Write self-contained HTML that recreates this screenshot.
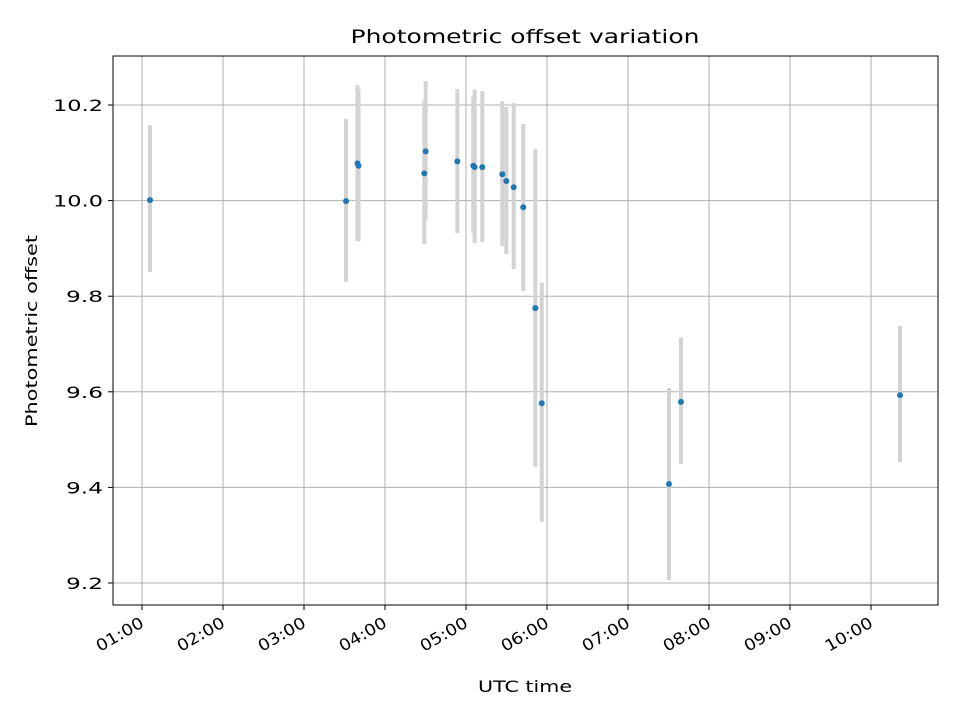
<!DOCTYPE html>
<html><head><meta charset="utf-8"><style>
body{margin:0;background:#fff;font-family:"Liberation Sans","DejaVu Sans",sans-serif}
svg text{font-family:"DejaVu Sans","Liberation Sans",sans-serif}
</style></head><body>
<svg id="chart" width="960" height="720" viewBox="0 0 960 720">
<rect width="960" height="720" fill="#fff"/>
<text x="525" y="43" style="font-size:19px" text-anchor="middle" textLength="349" lengthAdjust="spacingAndGlyphs">Photometric offset variation</text>
<text x="525" y="692" style="font-size:16px" text-anchor="middle" textLength="94" lengthAdjust="spacingAndGlyphs">UTC time</text>
<text transform="translate(37,331) rotate(-90)" style="font-size:16px" text-anchor="middle" textLength="192" lengthAdjust="spacingAndGlyphs">Photometric offset</text>
<g id="grid"></g><g id="bars"></g><g id="pts"></g><g id="ticks"></g>
<rect x="113" y="56" width="825" height="549" fill="none" stroke="#000" stroke-width="1"/>
</svg>
<script>
const times=[1.099,3.519,3.660,3.673,4.485,4.502,4.893,5.090,5.107,5.201,5.448,5.498,5.589,5.707,5.856,5.935,7.506,7.654,10.358];
const values=[10.001,9.999,10.078,10.073,10.057,10.103,10.082,10.073,10.070,10.070,10.055,10.041,10.028,9.986,9.775,9.576,9.407,9.579,9.593];
const lows=[9.851,9.830,9.915,9.915,9.909,9.959,9.932,9.932,9.911,9.913,9.905,9.888,9.857,9.811,9.443,9.328,9.206,9.449,9.453];
const highs=[10.158,10.171,10.242,10.233,10.210,10.250,10.233,10.217,10.233,10.229,10.208,10.196,10.204,10.160,10.108,9.828,9.608,9.713,9.738];
const xTicks=[1,2,3,4,5,6,7,8,9,10];
const xTickLabels=["01:00","02:00","03:00","04:00","05:00","06:00","07:00","08:00","09:00","10:00"];
const yTicks=[9.2,9.4,9.6,9.8,10.0,10.2];
const yTickLabels=["9.2","9.4","9.6","9.8","10.0","10.2"];
const X0=113,X1=938,Y0=605,Y1=56,xmin=0.642,xmax=10.827,ymin=9.154,ymax=10.3025;
const xs=h=>X0+(h-xmin)/(xmax-xmin)*(X1-X0);
const ys=v=>Y0-(v-ymin)/(ymax-ymin)*(Y0-Y1);
const NS="http://www.w3.org/2000/svg";
function mk(t,a,p){const e=document.createElementNS(NS,t);for(const k in a)e.setAttribute(k,a[k]);p.appendChild(e);return e;}
const grid=document.getElementById('grid'),bars=document.getElementById('bars'),pts=document.getElementById('pts'),tk=document.getElementById('ticks');
xTicks.forEach((h,i)=>{const x=xs(h);
 const g=mk('line',{x1:x,x2:x,y1:Y1,y2:Y0,stroke:'#b0b0b0','stroke-width':1},grid);
 
 
 const t=mk('line',{x1:x,x2:x,y1:Y0,y2:Y0+5,stroke:'#000'},tk);
 
 
 const l=mk('text',{transform:`translate(${x+3},${Y0+21}) rotate(-30)`,style:'font-size:16px','text-anchor':'end',textLength:52,lengthAdjust:'spacingAndGlyphs'},tk);
 l.textContent=xTickLabels[i];
 
 
});
yTicks.forEach((v,i)=>{const y=ys(v);
 const g=mk('line',{x1:X0,x2:X1,y1:y,y2:y,stroke:'#b0b0b0','stroke-width':1},grid);
 
 
 const t=mk('line',{x1:X0-5,x2:X0,y1:y,y2:y,stroke:'#000'},tk);
 
 
 const l=mk('text',{x:X0-10,y:y+6,style:'font-size:16px','text-anchor':'end',textLength:yTickLabels[i].length===4?50:37,lengthAdjust:'spacingAndGlyphs'},tk);
 l.textContent=yTickLabels[i];
 
 
});
times.forEach((h,i)=>{const x=xs(h);
 const b=mk('line',{x1:x,x2:x,y1:ys(highs[i]),y2:ys(lows[i]),stroke:'#d3d3d3','stroke-width':4},bars);
 
 
});
times.forEach((h,i)=>{
 const c=mk('circle',{cx:xs(h),cy:ys(values[i]),r:3,fill:'#1f77b4'},pts);
 
 
});
</script>
</body></html>
